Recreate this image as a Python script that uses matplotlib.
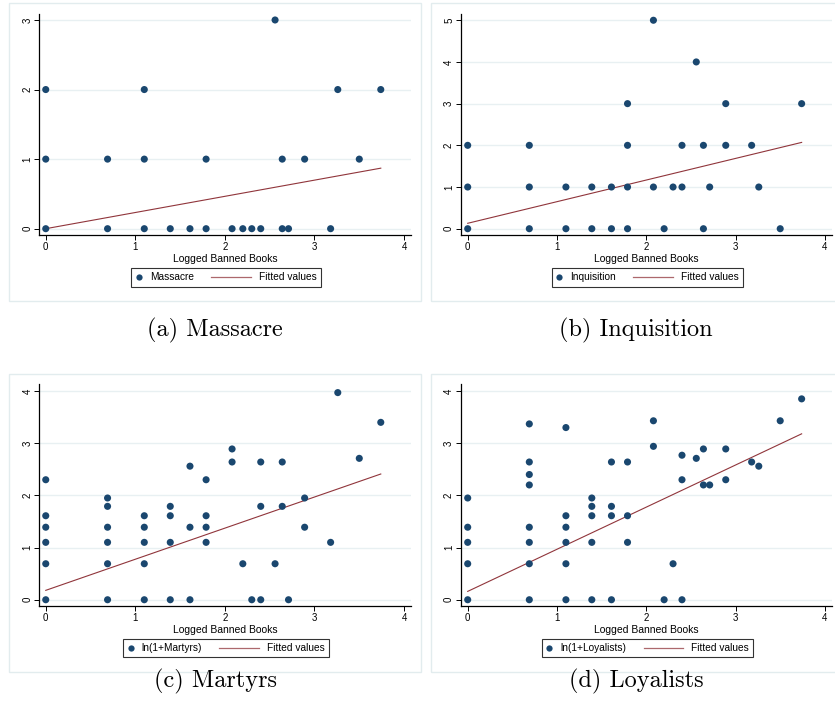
import numpy as np
import matplotlib
matplotlib.use("Agg")
import matplotlib.pyplot as plt
from matplotlib.lines import Line2D
from matplotlib.patches import Rectangle
from matplotlib.legend_handler import HandlerLine2D

# ---------------- data ----------------
massacre_x = [2.56,
              0, 1.10, 3.26, 3.74,
              0, 0.69, 1.10, 1.79, 2.64, 2.89, 3.50,
              0, 0.69, 1.10, 1.39, 1.61, 1.79, 2.08, 2.20, 2.30, 2.40, 2.64, 2.71, 3.18]
massacre_y = [3,
              2, 2, 2, 2,
              1, 1, 1, 1, 1, 1, 1,
              0, 0, 0, 0, 0, 0, 0, 0, 0, 0, 0, 0, 0]

inquisition_x = [2.08,
                 2.56,
                 1.79, 2.89, 3.74,
                 0, 0.69, 1.79, 2.40, 2.64, 2.89, 3.18,
                 0, 0.69, 1.10, 1.39, 1.61, 1.79, 2.08, 2.30, 2.40, 2.71, 3.26,
                 0, 0.69, 1.10, 1.39, 1.61, 1.79, 2.20, 2.64, 3.50]
inquisition_y = [5,
                 4,
                 3, 3, 3,
                 2, 2, 2, 2, 2, 2, 2,
                 1, 1, 1, 1, 1, 1, 1, 1, 1, 1, 1,
                 0, 0, 0, 0, 0, 0, 0, 0, 0]

martyrs_x = [0, 0, 0, 0, 0, 0,
             0.69, 0.69, 0.69, 0.69, 0.69, 0.69,
             1.10, 1.10, 1.10, 1.10, 1.10,
             1.39, 1.39, 1.39, 1.39,
             1.61, 1.61, 1.61,
             1.79, 1.79, 1.79, 1.79,
             2.08, 2.08,
             2.20,
             2.30,
             2.40, 2.40, 2.40,
             2.56,
             2.64, 2.64,
             2.71,
             2.89, 2.89,
             3.18,
             3.26,
             3.50,
             3.74]
martyrs_y = [2.30, 1.61, 1.39, 1.10, 0.69, 0,
             1.95, 1.79, 1.39, 1.10, 0.69, 0,
             1.61, 1.39, 1.10, 0.69, 0,
             1.79, 1.61, 1.10, 0,
             2.56, 1.39, 0,
             2.30, 1.61, 1.39, 1.10,
             2.89, 2.64,
             0.69,
             0,
             2.64, 1.79, 0,
             0.69,
             2.64, 1.79,
             0,
             1.95, 1.39,
             1.10,
             3.97,
             2.71,
             3.40]

loyalists_x = [0, 0, 0, 0, 0,
               0.69, 0.69, 0.69, 0.69, 0.69, 0.69, 0.69, 0.69,
               1.10, 1.10, 1.10, 1.10, 1.10, 1.10,
               1.39, 1.39, 1.39, 1.39, 1.39,
               1.61, 1.61, 1.61, 1.61,
               1.79, 1.79, 1.79,
               2.08, 2.08,
               2.20,
               2.30,
               2.40, 2.40, 2.40,
               2.56,
               2.64, 2.64,
               2.71,
               2.89, 2.89,
               3.18,
               3.26,
               3.50,
               3.74]
loyalists_y = [1.95, 1.39, 1.10, 0.69, 0,
               3.37, 2.64, 2.40, 2.20, 1.39, 1.10, 0.69, 0,
               3.30, 1.61, 1.39, 1.10, 0.69, 0,
               1.95, 1.79, 1.61, 1.10, 0,
               2.64, 1.79, 1.61, 0,
               2.64, 1.61, 1.10,
               3.43, 2.94,
               0,
               0.69,
               2.77, 2.30, 0,
               2.71,
               2.89, 2.20,
               2.20,
               2.89, 2.30,
               2.64,
               2.56,
               3.43,
               3.85]

# fitted line end values (at x = 0 and x = 3.74)
fit_x = [0, 3.74]
fit_massacre = [0.00, 0.87]
fit_inquisition = [0.13, 2.07]
fit_martyrs = [0.18, 2.41]
fit_loyalists = [0.16, 3.18]

series_labels = ["Massacre", "Inquisition", "ln(1+Martyrs)", "ln(1+Loyalists)"]
captions = ["(a) Massacre", "(b) Inquisition", "(c) Martyrs", "(d) Loyalists"]
y_ticks = [[0, 1, 2, 3], [0, 1, 2, 3, 4, 5], [0, 1, 2, 3, 4], [0, 1, 2, 3, 4]]
x_ticks = [0, 1, 2, 3, 4]
x_label = "Logged Banned Books"
fit_label = "Fitted values"

# ---------------- style ----------------
W, H = 835, 721
NAVY = "#1A476F"
MAROON = "#90353B"
GRID = "#E8F0F2"
FRAME = "#E2ECEE"
SANS = ["Liberation Sans", "DejaVu Sans"]

fig = plt.figure(figsize=(W / 100, H / 100), dpi=100)
fig.patch.set_facecolor("white")


def px_axes(l, t, r, b):
    return [l / W, 1 - b / H, (r - l) / W, (b - t) / H]


LINE_LEN_PT = 28.5


class LongLine(HandlerLine2D):
    def get_xdata(self, legend, xdescent, ydescent, width, height, fontsize):
        xd = np.array([-xdescent + width - LINE_LEN_PT, -xdescent + width])
        return xd, xd[:1]


panels = [
    dict(x=massacre_x, y=massacre_y, fit=fit_massacre,
         ax=(39.3, 14, 410.7, 235.3), xlim=(-0.072, 4.074), ylim=(-0.095, 3.086),
         frame=(9.3, 3.3, 420.7, 300.7), cap=(215, 330)),
    dict(x=inquisition_x, y=inquisition_y, fit=fit_inquisition,
         ax=(461, 14, 832, 235.3), xlim=(-0.075, 4.08), ylim=(-0.158, 5.15),
         frame=(431, 3.3, 845, 300.7), cap=(636, 330)),
    dict(x=martyrs_x, y=martyrs_y, fit=fit_martyrs,
         ax=(39.3, 384, 410.7, 606), xlim=(-0.072, 4.074), ylim=(-0.12, 4.135),
         frame=(9.3, 374, 420.7, 671.7), cap=(216, 681)),
    dict(x=loyalists_x, y=loyalists_y, fit=fit_loyalists,
         ax=(461, 384, 832, 606), xlim=(-0.075, 4.08), ylim=(-0.12, 4.135),
         frame=(431, 374, 845, 671.7), cap=(636, 681)),
]

for i, p in enumerate(panels):
    fl, ft, fr, fb = p["frame"]
    fig.patches.append(Rectangle((fl / W, 1 - fb / H), (fr - fl) / W, (fb - ft) / H,
                                 transform=fig.transFigure, facecolor="none",
                                 edgecolor=FRAME, linewidth=1.0, zorder=0))
    ax = fig.add_axes(px_axes(*p["ax"]))
    ax.set_xlim(*p["xlim"])
    ax.set_ylim(*p["ylim"])
    ax.set_xticks(x_ticks)
    ax.set_yticks(y_ticks[i])
    ax.yaxis.grid(True, color=GRID, linewidth=1.0)
    ax.set_axisbelow(True)
    for s in ["top", "right"]:
        ax.spines[s].set_visible(False)
    for s in ["left", "bottom"]:
        ax.spines[s].set_linewidth(0.9)
        ax.spines[s].set_color("black")
    ax.tick_params(direction="out", length=3.5, width=0.7, colors="black",
                   labelsize=7, pad=1.5)
    for lab in ax.get_xticklabels() + ax.get_yticklabels():
        lab.set_family(SANS)
    for lab in ax.get_yticklabels():
        lab.set_rotation(90)
        lab.set_va("center")
    ax.set_xlabel(x_label, fontsize=7.5, family=SANS, labelpad=1.5)

    ax.scatter(p["x"], p["y"], s=26, color=NAVY, edgecolors="none", zorder=3)
    ax.plot(fit_x, p["fit"], color=MAROON, linewidth=0.8, zorder=2)

    h1 = Line2D([], [], marker="o", linestyle="none", markersize=4.5,
                markerfacecolor=NAVY, markeredgecolor="none")
    h2 = Line2D([], [], color=MAROON, linewidth=0.9, alpha=0.75)
    leg = ax.legend([h1, h2], [series_labels[i], fit_label],
                    handler_map={h2: LongLine()},
                    loc="upper center", bbox_to_anchor=(0.503, -0.148),
                    ncol=2, frameon=True, fancybox=False,
                    borderpad=0.42, borderaxespad=0, handlelength=0.6,
                    handletextpad=0.8, columnspacing=5.0, numpoints=1,
                    prop={"family": SANS, "size": 7.3})
    leg.get_frame().set_edgecolor("black")
    leg.get_frame().set_linewidth(0.8)

    cx, cy = p["cap"]
    fig.text(cx / W, 1 - cy / H, captions[i], ha="center", va="center",
             family="cmr10", fontsize=17.5)

fig.savefig("out.png", dpi=100, facecolor="white")
